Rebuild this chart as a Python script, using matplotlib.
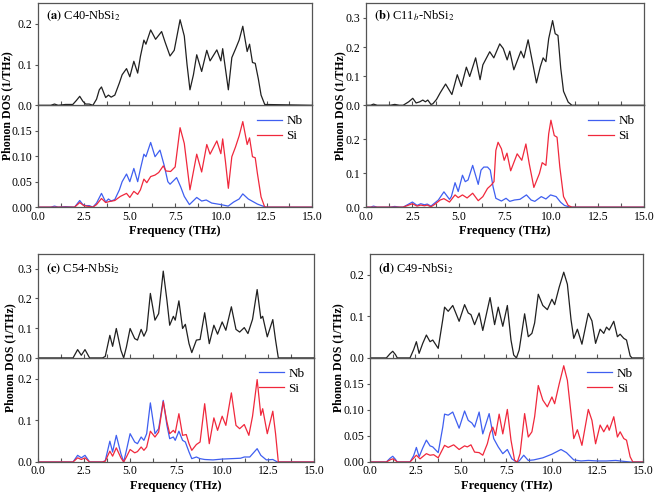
import matplotlib
matplotlib.use("Agg")
import matplotlib.pyplot as plt
from matplotlib.ticker import MultipleLocator

plt.rcParams["font.family"] = ["Liberation Serif", "DejaVu Serif"]
plt.rcParams["mathtext.fontset"] = "stix"

BLACK = "#202020"
BLUE = "#3f5ff0"
RED = "#f0283c"

# ---------------- (a) C40-NbSi2 ----------------
a_tot_f = [0, 0.7, 0.9, 1.1, 1.5, 1.9, 2.1, 2.28, 2.45, 2.6, 2.8, 3.0, 3.2, 3.35, 3.47, 3.6, 3.7, 3.85, 4.0, 4.2, 4.45,
           4.6, 4.84, 5.02, 5.24, 5.45, 5.6, 5.79, 5.9, 6.16, 6.43, 6.76, 6.95, 7.22, 7.45, 7.77, 8.0, 8.15, 8.31,
           8.5, 8.68, 8.95, 9.23, 9.41, 9.78, 10.0, 10.1, 10.25, 10.41, 10.6, 10.8, 11.0, 11.2, 11.44, 11.57, 11.73,
           11.88, 12.05, 12.2, 12.4, 15]
a_tot_v = [0, 0, 0.003, 0, 0.002, 0.002, 0.012, 0.022, 0.01, 0.003, 0.003, 0, 0.015, 0.038, 0.045, 0.03, 0.019,
           0.025, 0.02, 0.025, 0.055, 0.075, 0.09, 0.07, 0.108, 0.079, 0.12, 0.16, 0.15, 0.185, 0.162, 0.181, 0.155,
           0.121, 0.135, 0.21, 0.17, 0.1, 0.038, 0.075, 0.124, 0.083, 0.135, 0.109, 0.136, 0.109, 0.139, 0.09, 0.038,
           0.117, 0.138, 0.16, 0.194, 0.132, 0.15, 0.105, 0.103, 0.065, 0.025, 0.002, 0]
a_nb_f = [0, 0.7, 0.9, 1.1, 1.5, 2.0, 2.28, 2.45, 2.6, 2.8, 3.0, 3.2, 3.47, 3.7, 3.85, 4.0, 4.2, 4.45, 4.6, 4.84,
          5.02, 5.24, 5.45, 5.6, 5.79, 5.9, 6.16, 6.4, 6.67, 6.9, 7.1, 7.22, 7.58, 7.8, 8.0, 8.28, 8.68, 8.95, 9.2,
          9.5, 10.0, 10.4, 10.7, 11.0, 11.2, 11.5, 11.75, 12.0, 12.3, 12.5, 15]
a_nb_v = [0, 0, 0.002, 0, 0.001, 0, 0.013, 0.005, 0.003, 0.003, 0, 0.008, 0.027, 0.01, 0.016, 0.012, 0.015, 0.034,
          0.05, 0.065, 0.05, 0.076, 0.05, 0.075, 0.104, 0.099, 0.127, 0.099, 0.112, 0.082, 0.05, 0.045, 0.058, 0.04,
          0.021, 0.005, 0.019, 0.012, 0.014, 0.008, 0.005, 0.002, 0.01, 0.016, 0.026, 0.016, 0.011, 0.006, 0.002, 0, 0]
a_si_f = [0, 2.0, 2.28, 2.5, 3.0, 3.2, 3.47, 3.7, 3.9, 4.2, 4.5, 4.84, 5.02, 5.24, 5.45, 5.6, 5.79, 5.95, 6.16, 6.4,
          6.6, 6.85, 7.0, 7.25, 7.5, 7.77, 8.0, 8.31, 8.68, 8.95, 9.23, 9.41, 9.78, 10.0, 10.1, 10.25, 10.41, 10.6,
          10.8, 11.0, 11.2, 11.44, 11.57, 11.73, 11.88, 12.0, 12.2, 12.4, 15]
a_si_v = [0, 0, 0.009, 0.003, 0, 0.005, 0.017, 0.009, 0.011, 0.013, 0.021, 0.027, 0.019, 0.031, 0.025, 0.034, 0.055,
          0.048, 0.06, 0.063, 0.068, 0.081, 0.071, 0.07, 0.079, 0.156, 0.125, 0.034, 0.104, 0.069, 0.123, 0.104, 0.13,
          0.105, 0.134, 0.09, 0.037, 0.099, 0.118, 0.14, 0.168, 0.123, 0.136, 0.099, 0.097, 0.066, 0.02, 0, 0]

# ---------------- (b) C11b-NbSi2 ----------------
b_tot_f = [0, 0.25, 0.4, 0.6, 1.3, 1.55, 1.8, 2.0, 2.3, 2.52, 2.7, 2.9, 3.06, 3.2, 3.33, 3.5, 3.6, 3.8, 4.0, 4.29,
           4.63, 4.92, 5.14, 5.41, 5.59, 5.91, 6.15, 6.3, 6.67, 6.89, 7.21, 7.4, 7.61, 7.75, 7.97, 8.35, 8.51, 8.74,
           9.0, 9.19, 9.4, 9.55, 9.7, 9.85, 10.06, 10.2, 10.35, 10.5, 10.65, 10.9, 11.1, 15]
b_tot_v = [0, 0, 0.004, 0, 0, 0.003, 0, 0, 0.012, 0.024, 0.008, 0.012, 0.018, 0.012, 0.018, 0.003, 0.005, 0.02,
           0.043, 0.073, 0.037, 0.105, 0.065, 0.131, 0.099, 0.163, 0.088, 0.139, 0.184, 0.163, 0.211, 0.195, 0.156,
           0.186, 0.122, 0.186, 0.163, 0.225, 0.14, 0.077, 0.133, 0.163, 0.15, 0.229, 0.291, 0.246, 0.24, 0.127,
           0.048, 0.011, 0, 0]
b_nb_f = [0, 0.25, 0.4, 0.6, 1.3, 1.55, 1.8, 2.0, 2.5, 2.75, 2.95, 3.15, 3.3, 3.5, 3.7, 3.9, 4.2, 4.5, 4.6, 4.8, 4.97,
          5.2, 5.35, 5.5, 5.75, 6.05, 6.2, 6.35, 6.55, 6.7, 6.85, 7.0, 7.3, 7.55, 7.75, 8.0, 8.3, 8.65, 8.9, 9.1,
          9.45, 9.7, 9.95, 10.25, 10.5, 10.7, 11.0, 15]
b_nb_v = [0, 0, 0.003, 0, 0, 0.002, 0, 0, 0.015, 0.005, 0.01, 0.007, 0.009, 0.003, 0.012, 0.021, 0.045, 0.023, 0.031,
          0.072, 0.046, 0.094, 0.075, 0.08, 0.123, 0.067, 0.109, 0.118, 0.118, 0.109, 0.06, 0.026, 0.018, 0.026,
          0.017, 0.021, 0.023, 0.036, 0.021, 0.017, 0.031, 0.024, 0.036, 0.031, 0.014, 0.005, 0, 0]
b_si_f = [0, 2.0, 2.5, 2.75, 2.95, 3.15, 3.3, 3.5, 3.7, 4.0, 4.2, 4.5, 4.8, 4.97, 5.2, 5.45, 5.75, 6.05, 6.3, 6.55,
          6.75, 6.9, 7.0, 7.12, 7.3, 7.45, 7.6, 7.8, 8.15, 8.4, 8.62, 8.8, 9.05, 9.35, 9.5, 9.7, 9.85, 9.97, 10.15,
          10.3, 10.45, 10.65, 10.9, 11.1, 15]
b_si_v = [0, 0, 0.01, 0.003, 0.006, 0.004, 0.006, 0.001, 0.008, 0.021, 0.025, 0.015, 0.036, 0.028, 0.036, 0.027,
          0.041, 0.019, 0.031, 0.055, 0.065, 0.075, 0.167, 0.191, 0.172, 0.138, 0.159, 0.107, 0.157, 0.138, 0.186,
          0.128, 0.058, 0.099, 0.131, 0.123, 0.216, 0.256, 0.211, 0.206, 0.118, 0.031, 0.005, 0, 0]

# ---------------- (c) C54-NbSi2 ----------------
c_tot_f = [0, 1.9, 2.15, 2.35, 2.55, 2.8, 3.5, 3.65, 3.9, 4.05, 4.25, 4.5, 4.65, 4.8, 5.0, 5.25, 5.4, 5.6, 5.75, 5.9,
           6.1, 6.35, 6.55, 6.8, 7.0, 7.15, 7.35, 7.45, 7.65, 7.85, 8.0, 8.2, 8.35, 8.6, 8.8, 9.05, 9.3, 9.55, 9.75,
           10.0, 10.2, 10.5, 10.75, 10.95, 11.2, 11.4, 11.65, 11.9, 12.1, 12.2, 12.45, 12.75, 12.9, 13.05, 15]
c_tot_v = [0, 0, 0.028, 0.009, 0.028, 0, 0, 0.005, 0.076, 0.039, 0.099, 0.026, 0, 0.037, 0.099, 0.065, 0.06, 0.096,
           0.073, 0.093, 0.217, 0.127, 0.149, 0.292, 0.194, 0.11, 0.14, 0.127, 0.192, 0.099, 0.113, 0.048, 0.018, 0.06,
           0.062, 0.152, 0.048, 0.11, 0.08, 0.121, 0.093, 0.172, 0.096, 0.087, 0.102, 0.082, 0.13, 0.23, 0.133, 0.14,
           0.071, 0.129, 0.06, 0, 0]
c_nb_f = [0, 1.9, 2.15, 2.35, 2.55, 2.8, 3.5, 3.65, 3.9, 4.05, 4.25, 4.5, 4.65, 4.8, 5.0, 5.25, 5.4, 5.6, 5.75, 5.9,
          6.1, 6.35, 6.55, 6.8, 7.0, 7.15, 7.35, 7.45, 7.65, 7.85, 8.0, 8.2, 8.35, 8.6, 8.8, 9.05, 9.5, 10.0, 10.5,
          11.0, 11.2, 11.5, 11.9, 12.1, 12.4, 12.75, 13.0, 15]
c_nb_v = [0, 0, 0.016, 0.01, 0.016, 0, 0, 0.003, 0.05, 0.024, 0.064, 0.02, 0, 0.028, 0.068, 0.048, 0.044, 0.06, 0.052,
          0.068, 0.142, 0.068, 0.08, 0.148, 0.088, 0.056, 0.06, 0.052, 0.074, 0.052, 0.048, 0.024, 0.008, 0.012, 0.008,
          0.006, 0.005, 0.007, 0.008, 0.009, 0.012, 0.012, 0.032, 0.016, 0.005, 0.006, 0, 0]
c_si_f = [0, 1.9, 2.15, 2.35, 2.55, 2.8, 3.5, 3.65, 3.9, 4.05, 4.25, 4.5, 4.65, 4.8, 5.0, 5.25, 5.4, 5.6, 5.75, 5.9,
          6.1, 6.35, 6.55, 6.8, 7.0, 7.15, 7.35, 7.45, 7.65, 7.85, 8.05, 8.2, 8.35, 8.6, 8.8, 9.05, 9.3, 9.55, 9.75,
          10.0, 10.2, 10.5, 10.75, 10.95, 11.2, 11.45, 11.65, 11.9, 12.1, 12.2, 12.45, 12.75, 12.9, 13.05, 15]
c_si_v = [0, 0, 0.01, 0.006, 0.01, 0, 0, 0.002, 0.026, 0.014, 0.034, 0.01, 0, 0.012, 0.03, 0.022, 0.025, 0.036, 0.028,
          0.036, 0.074, 0.06, 0.072, 0.145, 0.096, 0.068, 0.076, 0.07, 0.116, 0.064, 0.066, 0.044, 0.028, 0.042, 0.048,
          0.14, 0.044, 0.106, 0.076, 0.11, 0.088, 0.166, 0.088, 0.08, 0.09, 0.064, 0.11, 0.198, 0.112, 0.128, 0.068,
          0.122, 0.068, 0, 0]

# ---------------- (d) C49-NbSi2 ----------------
d_tot_f = [0, 0.9, 1.1, 1.25, 1.4, 1.5, 2.2, 2.4, 2.55, 2.7, 2.9, 3.1, 3.3, 3.45, 3.75, 4.0, 4.1, 4.3, 4.55, 4.9,
           5.2, 5.4, 5.55, 5.75, 6.0, 6.2, 6.6, 6.85, 7.05, 7.3, 7.55, 7.75, 7.9, 8.05, 8.2, 8.5, 8.7, 8.9, 9.05, 9.25,
           9.5, 9.75, 10.0, 10.15, 10.4, 10.65, 10.85, 11.05, 11.2, 11.4, 11.65, 12.0, 12.2, 12.4, 12.65, 12.85, 13.0,
           13.15, 13.4, 13.6, 13.75, 13.95, 14.1, 14.3, 14.4, 15]
d_tot_v = [0, 0, 0.01, 0.016, 0.008, 0, 0, 0.02, 0.039, 0.011, 0.035, 0.055, 0.039, 0.043, 0.023, 0.092, 0.122, 0.112,
           0.126, 0.088, 0.128, 0.108, 0.104, 0.08, 0.108, 0.066, 0.145, 0.08, 0.122, 0.076, 0.126, 0.043, 0.007, 0,
           0.019, 0.106, 0.051, 0.059, 0.084, 0.153, 0.126, 0.116, 0.141, 0.128, 0.17, 0.206, 0.177, 0.092, 0.047,
           0.069, 0.033, 0.107, 0.089, 0.035, 0.069, 0.059, 0.074, 0.067, 0.088, 0.051, 0.057, 0.047, 0.043, 0.005,
           0, 0]
d_nb_f = [0, 0.9, 1.1, 1.25, 1.4, 1.5, 2.2, 2.4, 2.55, 2.7, 2.9, 3.1, 3.3, 3.45, 3.75, 4.0, 4.1, 4.3, 4.55, 4.9, 5.2,
          5.4, 5.6, 5.75, 6.0, 6.2, 6.55, 6.8, 7.05, 7.3, 7.55, 7.8, 8.05, 8.2, 8.45, 8.7, 9.0, 9.5, 10.0, 10.5,
          10.8, 11.2, 11.6, 12.0, 12.5, 13.0, 13.5, 14.0, 14.3, 15]
d_nb_v = [0, 0, 0.007, 0.011, 0.005, 0, 0, 0.012, 0.028, 0.01, 0.027, 0.042, 0.031, 0.029, 0.018, 0.067, 0.092,
          0.09, 0.096, 0.065, 0.098, 0.08, 0.075, 0.067, 0.096, 0.054, 0.093, 0.045, 0.029, 0.016, 0.024, 0.006, 0,
          0.002, 0.013, 0.003, 0.004, 0.008, 0.015, 0.024, 0.018, 0.004, 0.002, 0.003, 0.002, 0.002, 0.003, 0.001, 0, 0]
d_si_f = [0, 0.9, 1.1, 1.25, 1.4, 1.5, 2.2, 2.55, 2.75, 3.1, 3.3, 3.5, 3.75, 4.1, 4.3, 4.6, 4.9, 5.2, 5.35, 5.55,
          5.75, 6.0, 6.2, 6.45, 6.6, 6.75, 6.9, 7.1, 7.3, 7.55, 7.75, 7.95, 8.1, 8.25, 8.5, 8.7, 8.9, 9.05, 9.25, 9.5,
          9.75, 10.0, 10.15, 10.4, 10.65, 10.85, 11.05, 11.2, 11.4, 11.65, 12.0, 12.2, 12.4, 12.65, 12.85, 13.05,
          13.15, 13.4, 13.6, 13.75, 13.95, 14.1, 14.3, 14.45, 15]
d_si_v = [0, 0, 0.004, 0.006, 0.003, 0, 0, 0.013, 0.006, 0.016, 0.013, 0.014, 0.008, 0.032, 0.028, 0.033, 0.024,
          0.031, 0.029, 0.033, 0.019, 0.018, 0.013, 0.035, 0.056, 0.067, 0.051, 0.092, 0.054, 0.101, 0.042, 0.003, 0,
          0.016, 0.093, 0.048, 0.058, 0.087, 0.147, 0.119, 0.106, 0.125, 0.112, 0.15, 0.185, 0.157, 0.093, 0.045,
          0.062, 0.032, 0.101, 0.08, 0.035, 0.071, 0.058, 0.071, 0.061, 0.087, 0.048, 0.058, 0.045, 0.042, 0.01, 0, 0]

panels = [
    # label, name, axes box, top ylim/ticks/fmt, bottom ylim/ticks/fmt, data, ylabel x, label y
    ("(a)", "C40-NbSi$_2$", 0.058, 0.579, 0.418, 0.207, 0.25, [0.0, 0.1, 0.2], "%.1f",
     0.2, [0.0, 0.05, 0.10, 0.15], "%.2f", a_tot_f, a_tot_v, a_nb_f, a_nb_v, a_si_f, a_si_v, 0.0115, 0.88),
    ("(b)", "C11$_b$-NbSi$_2$", 0.558, 0.579, 0.424, 0.207, 0.35, [0.0, 0.1, 0.2, 0.3], "%.1f",
     0.3, [0.0, 0.1, 0.2], "%.1f", b_tot_f, b_tot_v, b_nb_f, b_nb_v, b_si_f, b_si_v, 0.519, 0.88),
    ("(c)", "C54-NbSi$_2$", 0.058, 0.061, 0.421, 0.2115, 0.35, [0.0, 0.1, 0.2, 0.3], "%.1f",
     0.25, [0.0, 0.1, 0.2], "%.1f", c_tot_f, c_tot_v, c_nb_f, c_nb_v, c_si_f, c_si_v, 0.015, 0.86),
    ("(d)", "C49-NbSi$_2$", 0.564, 0.061, 0.416, 0.2115, 0.25, [0.0, 0.1, 0.2], "%.1f",
     0.2, [0.0, 0.05, 0.10, 0.15], "%.2f", d_tot_f, d_tot_v, d_nb_f, d_nb_v, d_si_f, d_si_v, 0.515, 0.86),
]

fig = plt.figure(figsize=(6.56, 4.92), dpi=100)

for (lab, name, left, bottom, width, height, ytop, yt_top, fmt_top, ybot, yt_bot, fmt_bot,
     tf, tv, nf, nv, sf, sv, ylab_x, lab_y) in panels:
    ax_b = fig.add_axes([left, bottom, width, height])
    ax_t = fig.add_axes([left, bottom + height, width, height], sharex=ax_b)

    ax_t.plot(tf, tv, color=BLACK, lw=0.9, solid_joinstyle="round")
    ax_b.plot(nf, nv, color=BLUE, lw=0.9, label="Nb", solid_joinstyle="round")
    ax_b.plot(sf, sv, color=RED, lw=0.9, label="Si", solid_joinstyle="round")

    ax_b.set_xlim(0, 15)
    ax_t.set_ylim(0, ytop)
    ax_b.set_ylim(0, ybot)
    ax_t.set_yticks(yt_top)
    ax_b.set_yticks(yt_bot)
    ax_t.set_yticklabels([fmt_top % v for v in yt_top])
    ax_b.set_yticklabels([fmt_bot % v for v in yt_bot])
    ax_b.set_xticks([0, 2.5, 5, 7.5, 10, 12.5, 15])
    ax_b.set_xticklabels(["0.0", "2.5", "5.0", "7.5", "10.0", "12.5", "15.0"])
    ax_b.xaxis.set_minor_locator(MultipleLocator(1.25))

    for ax in (ax_t, ax_b):
        for sp in ax.spines.values():
            sp.set_color("#555555")
            sp.set_linewidth(0.9)
        ax.tick_params(axis="x", which="both", direction="in", length=3, width=0.8,
                       color="#555555", labelsize=8.5, pad=2.5)
        ax.tick_params(axis="y", direction="out", length=2.5, width=0.8,
                       color="#555555", labelsize=8.5, pad=1.5)
    ax_t.tick_params(axis="x", labelbottom=False)

    ax_b.set_xlabel("Frequency (THz)", fontsize=9, fontweight="bold", labelpad=2)
    ax_t.text(0.03, lab_y, r"$\mathbf{" + lab + "}$ " + name, transform=ax_t.transAxes,
              fontsize=9, va="center", ha="left")
    ax_b.legend(loc="upper right", frameon=False, fontsize=9.5, handlelength=1.9,
                handletextpad=0.35, labelspacing=0.2, borderaxespad=0.35)
    fig.text(ylab_x, bottom + height, "Phonon DOS (1/THz)", rotation=90, ha="center",
             va="center", fontsize=8.5, fontweight="bold")

fig.savefig("out.png", dpi=100)
